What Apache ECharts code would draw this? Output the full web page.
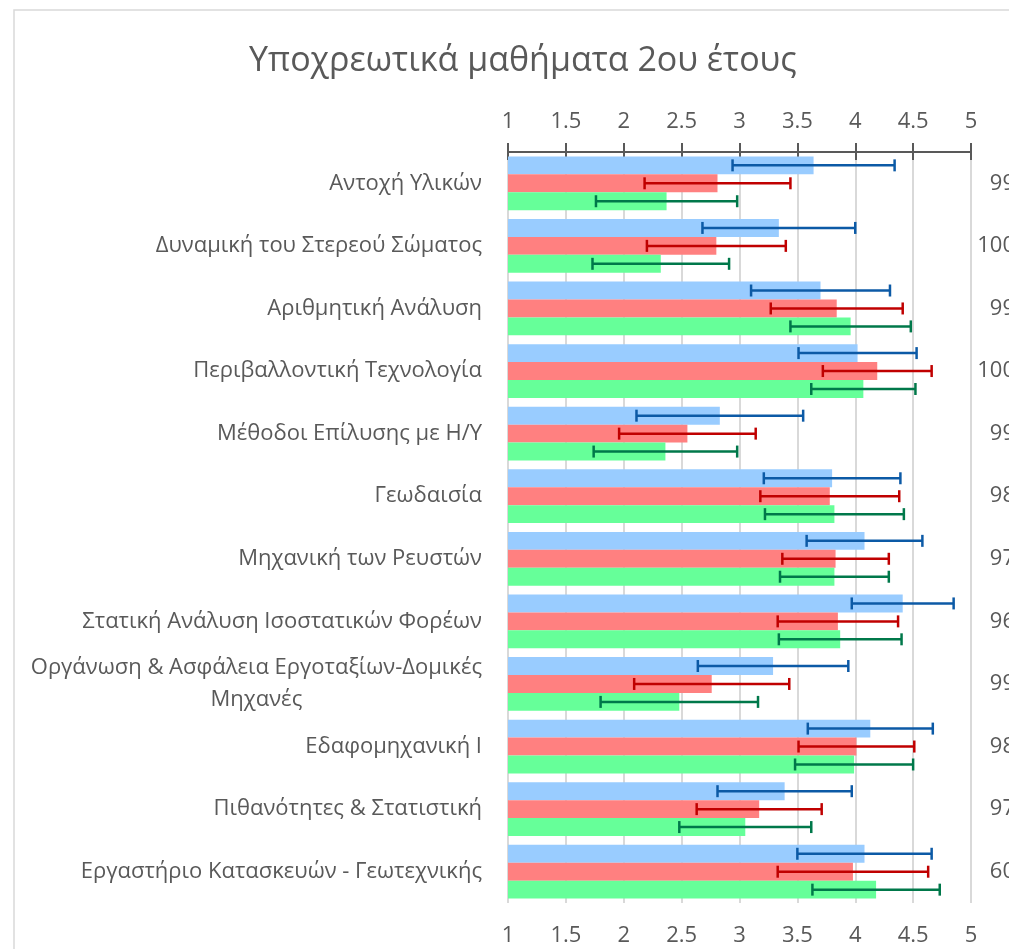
<!DOCTYPE html>
<html>
<head>
<meta charset="utf-8">
<script src="https://cdn.jsdelivr.net/npm/echarts@6/dist/echarts.min.js"></script>
<style>
  html, body { margin: 0; padding: 0; background: #fff; }
  #chart { width: 1009px; height: 949px; }
</style>
</head>
<body>
<div id="chart"></div>
<script>
// courses (top to bottom)
const courses = [
  'Αντοχή Υλικών',
  'Δυναμική του Στερεού Σώματος',
  'Αριθμητική Ανάλυση',
  'Περιβαλλοντική Τεχνολογία',
  'Μέθοδοι Επίλυσης με Η/Υ',
  'Γεωδαισία',
  'Μηχανική των Ρευστών',
  'Στατική Ανάλυση Ισοστατικών Φορέων',
  'Οργάνωση & Ασφάλεια Εργοταξίων-Δομικές Μηχανές',
  'Εδαφομηχανική Ι',
  'Πιθανότητες & Στατιστική',
  'Εργαστήριο Κατασκευών - Γεωτεχνικής'
];
// answers per course (right side labels)
const answers = [99, 100, 99, 100, 99, 98, 97, 96, 99, 98, 97, 60];

const seriesNames = ['Σειρά1', 'Σειρά2', 'Σειρά3'];

const blueMean = [3.64, 3.34, 3.70, 4.02, 2.83, 3.80, 4.08, 4.41, 3.29, 4.13, 3.39, 4.08];
const blueErr  = [0.70, 0.66, 0.60, 0.51, 0.72, 0.59, 0.50, 0.44, 0.65, 0.54, 0.58, 0.58];
const redMean  = [2.81, 2.80, 3.84, 4.19, 2.55, 3.78, 3.83, 3.85, 2.76, 4.01, 3.17, 3.98];
const redErr   = [0.63, 0.60, 0.57, 0.47, 0.59, 0.60, 0.46, 0.52, 0.67, 0.50, 0.54, 0.65];
const greenMean = [2.37, 2.32, 3.96, 4.07, 2.36, 3.82, 3.82, 3.87, 2.48, 3.99, 3.05, 4.18];
const greenErr  = [0.61, 0.59, 0.52, 0.45, 0.62, 0.60, 0.47, 0.53, 0.68, 0.51, 0.57, 0.55];

const FONT = 'Open Sans';
const TEXT = '#595959';
const GAP = 0.14;

const chart = echarts.init(document.getElementById('chart'));

function errorData(mean, err) {
  return mean.map((m, i) => [i, m - err[i], m + err[i]]);
}

// slot: 0 top bar, 1 middle, 2 bottom
function errorRenderer(slot) {
  return function (params, api) {
    const cat = api.value(0);
    const lo = api.coord([api.value(1), cat]);
    const hi = api.coord([api.value(2), cat]);
    const band = api.size([0, 1])[1];
    const barW = band * (1 - GAP) / 3;
    const y = lo[1] + (slot - 1) * barW;
    const cap = 6;
    const style = { stroke: api.visual('color'), lineWidth: 2.5 };
    return {
      type: 'group',
      children: [
        { type: 'line', shape: { x1: lo[0], y1: y, x2: hi[0], y2: y }, style: style },
        { type: 'line', shape: { x1: lo[0], y1: y - cap, x2: lo[0], y2: y + cap }, style: style },
        { type: 'line', shape: { x1: hi[0], y1: y - cap, x2: hi[0], y2: y + cap }, style: style }
      ]
    };
  };
}

const barColors = ['#99CCFF', '#FF8080', '#66FF99'];
const errColors = ['#0C5AA6', '#C00000', '#00784A'];
const means = [blueMean, redMean, greenMean];
const errs = [blueErr, redErr, greenErr];

const series = [];
means.forEach((m, i) => {
  series.push({
    name: seriesNames[i],
    type: 'bar',
    xAxisIndex: 0,
    yAxisIndex: 0,
    data: m,
    barGap: '0%',
    barCategoryGap: (GAP * 100) + '%',
    itemStyle: { color: barColors[i] },
    silent: true
  });
});
means.forEach((m, i) => {
  series.push({
    name: seriesNames[i] + ' err',
    type: 'custom',
    xAxisIndex: 0,
    yAxisIndex: 0,
    data: errorData(m, errs[i]),
    encode: { x: [1, 2], y: 0 },
    itemStyle: { color: errColors[i] },
    renderItem: errorRenderer(i),
    z: 3,
    silent: true
  });
});

const valueAxisBase = { type: 'value', min: 1, max: 5, interval: 0.5 };

chart.setOption({
  backgroundColor: '#fff',
  animation: false,
  title: {
    text: 'Υποχρεωτικά μαθήματα 2ου έτους',
    left: 244,
    top: 39,
    textStyle: { fontFamily: FONT, fontSize: 34, fontWeight: 'normal', color: TEXT }
  },
  graphic: [{
    type: 'rect',
    shape: { x: 14, y: 10, width: 1100, height: 1000 },
    style: { fill: 'none', stroke: '#d9d9d9', lineWidth: 1.5 },
    silent: true
  }],
  grid: { left: 508, right: 38, top: 152, bottom: 46, outerBoundsMode: 'none', containLabel: false },
  xAxis: [
    Object.assign({}, valueAxisBase, {
      position: 'top',
      axisLine: { show: true, lineStyle: { color: TEXT, width: 2 } },
      axisTick: { show: true, length: 9, lineStyle: { color: TEXT, width: 2 } },
      axisLabel: { fontFamily: FONT, fontSize: 22, color: TEXT, margin: 19 },
      splitLine: { show: true, lineStyle: { color: '#d9d9d9', width: 2 } }
    }),
    Object.assign({}, valueAxisBase, {
      position: 'top',
      axisLine: { show: false },
      axisTick: { show: true, inside: true, length: 8, lineStyle: { color: TEXT, width: 2 } },
      axisLabel: { show: false },
      splitLine: { show: false }
    }),
    Object.assign({}, valueAxisBase, {
      position: 'bottom',
      axisLine: { show: false },
      axisTick: { show: false },
      axisLabel: { fontFamily: FONT, fontSize: 22, color: TEXT, margin: 22 },
      splitLine: { show: false }
    })
  ],
  yAxis: [
    {
      type: 'category',
      data: courses,
      inverse: true,
      axisLine: { show: false },
      axisTick: { show: false },
      axisLabel: {
        fontFamily: FONT,
        fontSize: 22,
        color: TEXT,
        margin: 26,
        interval: 0,
        formatter: function (v) {
          if (v.length > 40) {
            const cut = v.lastIndexOf(' ');
            return '{c|' + v.slice(0, cut) + '}\n{c|' + v.slice(cut + 1) + '}';
          }
          return v;
        },
        rich: { c: { align: 'center', fontFamily: FONT, fontSize: 22, color: TEXT, lineHeight: 32 } }
      }
    },
    {
      type: 'category',
      data: answers,
      inverse: true,
      position: 'right',
      axisLine: { show: false },
      axisTick: { show: false },
      axisLabel: { fontFamily: FONT, fontSize: 22, color: TEXT, margin: 44, align: 'right', interval: 0 }
    }
  ],
  series: series
});
</script>
</body>
</html>
